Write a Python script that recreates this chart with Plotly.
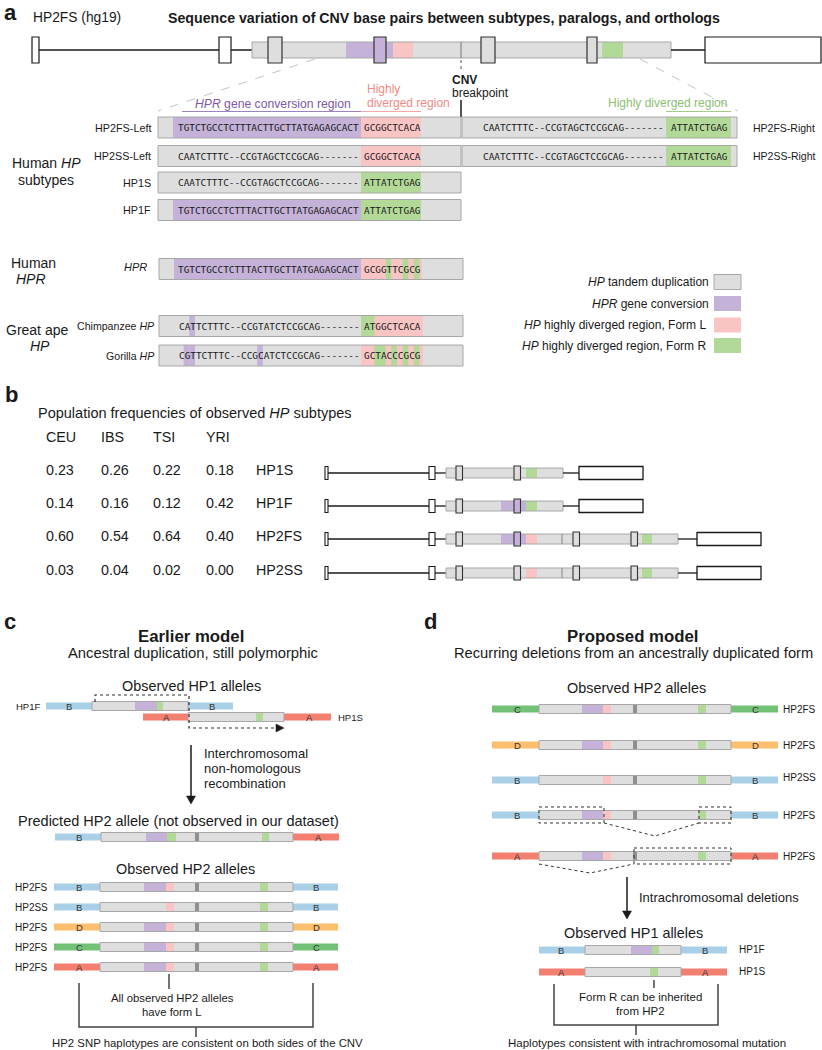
import plotly.graph_objects as go

# ---------------- data ----------------
populations = ["CEU", "IBS", "TSI", "YRI"]
subtypes = ["HP1S", "HP1F", "HP2FS", "HP2SS"]
freq_CEU = [0.23, 0.14, 0.60, 0.03]
freq_IBS = [0.26, 0.16, 0.54, 0.04]
freq_TSI = [0.22, 0.12, 0.64, 0.02]
freq_YRI = [0.18, 0.42, 0.40, 0.00]

seq_HPR_conv = "TGTCTGCCTCTTTACTTGCTTATGAGAGCACT"
seq_HP_base = "CAATCTTTC--CCGTAGCTCCGCAG-------"
seq_formL = "GCGGCTCACA"
seq_formR = "ATTATCTGAG"
seq_HPR_div = "GCGGTTCGCG"
seq_chimp = "CATTCTTTC--CCGTATCTCCGCAG-------"
seq_chimp_div = "ATGGCTCACA"
seq_gorilla = "CGTTCTTTC--CCGCATCTCCGCAG-------"
seq_gorilla_div = "GCTACCCGCG"

subtype_rows = ["HP2FS-Left", "HP2SS-Left", "HP1S", "HP1F"]
subtype_conv = [True, False, False, True]
subtype_form = ["L", "L", "R", "R"]
right_rows = ["HP2FS-Right", "HP2SS-Right"]

# character indices highlighted (purple = matches HPR, green = form R)
HPR_green_idx = [4, 7, 9]
chimp_purple_idx = [2]
chimp_green_idx = [0, 1]
gorilla_purple_idx = [1, 2, 14]
gorilla_green_idx = [2, 3, 5, 7, 9]

legend_labels = ["<i>HP</i> tandem duplication", "<i>HPR</i> gene conversion",
                 "<i>HP</i> highly diverged region, Form L",
                 "<i>HP</i> highly diverged region, Form R"]

c_hp2_labels = ["HP2FS", "HP2SS", "HP2FS", "HP2FS", "HP2FS"]
c_hp2_haps = ["B", "B", "D", "C", "A"]
c_hp2_conv = [True, False, True, True, True]
d_hp2_labels = ["HP2FS", "HP2FS", "HP2SS", "HP2FS", "HP2FS"]
d_hp2_haps = ["C", "D", "B", "B", "A"]
d_hp2_conv = [True, True, False, True, True]

# ---------------- style ----------------
FONT = "Liberation Sans"
MONO = "DejaVu Sans Mono"
GRAY = "#dedede"
GRAY_LINE = "#a8a8a8"
PURPLE = "#c4b2d8"
PINK = "#f9c4c4"
GREEN = "#b3d998"
CNV_DARK = "#8f8f8f"
HAP = {"A": "#f27f70", "B": "#a9d0e7", "C": "#72c177", "D": "#fdbe6e"}
TXT = "#1a1a1a"
NONE = "rgba(0,0,0,0)"

shapes = []
ann = []


def rect(x0, x1, y0, y1, fill, lc=None, lw=0, dash=None):
    shapes.append(dict(type="rect", xref="x", yref="y", x0=x0, x1=x1, y0=y0, y1=y1,
                       fillcolor=fill, line=dict(color=lc or NONE, width=lw, dash=dash)))


def line(x0, y0, x1, y1, color=TXT, lw=1.2, dash=None):
    shapes.append(dict(type="line", xref="x", yref="y", x0=x0, y0=y0, x1=x1, y1=y1,
                       line=dict(color=color, width=lw, dash=dash)))


def path(d, fill=NONE, color=TXT, lw=1.0, dash=None):
    shapes.append(dict(type="path", xref="x", yref="y", path=d, fillcolor=fill,
                       line=dict(color=color, width=lw, dash=dash)))


def txt(x, y, s, size=12, color=TXT, xa="center", ya="middle", family=FONT):
    ann.append(dict(x=x, y=y, xref="x", yref="y", text=s, showarrow=False, xanchor=xa,
                    yanchor=ya, borderpad=0, font=dict(size=size, color=color, family=family)))


CW = 0.602 * 9.4  # monospace char width


def seqtext(x, y, s):
    txt(x, y, s, size=9.4, xa="left", family=MONO)


# ================= panel a =================
txt(3, 12, "<b>a</b>", 22, xa="left")
txt(32, 17, "HP2FS (hg19)", 13.8, xa="left")
txt(444, 18, "<b>Sequence variation of CNV base pairs between subtypes, paralogs, and orthologs</b>", 14.2)

yc = 50
rect(32, 39, 37, 63, "white", TXT, 1.2)
line(39, yc, 219, yc, TXT, 1.5)
rect(219, 231, 37, 63, "white", TXT, 1.2)
line(231, yc, 252, yc, TXT, 1.5)
rect(252, 671, 42, 58, GRAY)
rect(346, 393, 42, 58, PURPLE)
rect(393, 413, 42, 58, PINK)
rect(602, 623, 42, 58, GREEN)
rect(252, 671, 42, 58, NONE, GRAY_LINE, 1)
line(461, 42, 461, 58, "#777", 1)
for (x0, x1, f) in [(268, 282, GRAY), (374, 386, PURPLE), (481, 495, GRAY), (587, 597, GRAY)]:
    rect(x0, x1, 37, 63, f, "#333", 1.2)
line(671, yc, 705, yc, TXT, 1.5)
rect(705, 821, 37, 63, "white", TXT, 1.2)

# zoom dashed lines
line(315, 59, 158, 111, "#c4c4c4", 1, "dash")
line(640, 59, 738, 111, "#c4c4c4", 1, "dash")
line(461, 60, 461, 70, "#555", 1, "dot")
txt(451, 80, "<b>CNV</b>", 12, xa="left")
txt(451, 93, "breakpoint", 12, xa="left")
line(461, 100, 461, 117, TXT, 1.5)

txt(352, 104, "<i>HPR</i> gene conversion region", 12.2, "#7d5aa8", xa="right")
line(182, 111.5, 361, 111.5, "#9b84c0", 1)
txt(366, 89, "Highly", 12, "#f08a86", xa="left")
txt(366, 103, "diverged region", 12, "#f08a86", xa="left")
line(361, 111.5, 421, 111.5, "#f5a9a7", 1)
txt(667, 103, "Highly diverged region", 12, "#8cc074")
line(666, 111.5, 731, 111.5, "#9fcd86", 1)

row_y = [127.5, 156, 182.5, 210]
RH = 10.5
for i, lab in enumerate(subtype_rows):
    y = row_y[i]
    rect(158, 461, y - RH, y + RH, GRAY)
    if subtype_conv[i]:
        rect(173, 361, y - RH, y + RH, PURPLE)
    rect(361, 421, y - RH, y + RH, PINK if subtype_form[i] == "L" else GREEN)
    rect(158, 461, y - RH, y + RH, NONE, GRAY_LINE, 1)
    seqtext(177, y, seq_HPR_conv if subtype_conv[i] else seq_HP_base)
    seqtext(363, y, seq_formL if subtype_form[i] == "L" else seq_formR)
    txt(152, y, lab, 10.8, xa="right")
for i, lab in enumerate(right_rows):
    y = row_y[i]
    rect(462, 737, y - RH, y + RH, GRAY)
    rect(666, 731, y - RH, y + RH, GREEN)
    rect(462, 737, y - RH, y + RH, NONE, GRAY_LINE, 1)
    seqtext(482, y, seq_HP_base)
    seqtext(670, y, seq_formR)
    txt(752, y, lab, 10.5, xa="left")

txt(46, 163, "Human <i>HP</i>", 14)
txt(46, 180, "subtypes", 14)

# HPR row
y = 269
rect(159, 463, y - RH, y + RH, GRAY)
rect(174, 361, y - RH, y + RH, PURPLE)
rect(361, 422, y - RH, y + RH, PINK)
for k in HPR_green_idx:
    rect(363 + k * CW, 363 + (k + 1) * CW, y - RH, y + RH, GREEN)
rect(159, 463, y - RH, y + RH, NONE, GRAY_LINE, 1)
seqtext(177, y, seq_HPR_conv)
seqtext(363, y, seq_HPR_div)
txt(148, y - 2, "<i>HPR</i>", 11, xa="right")
txt(33, 263, "Human", 14)
txt(31, 279, "<i>HPR</i>", 14)

# great ape rows
for (y, lab, s, sd, pidx, gidx) in [(326, "Chimpanzee <i>HP</i>", seq_chimp, seq_chimp_div, chimp_purple_idx, chimp_green_idx),
                                      (355.5, "Gorilla <i>HP</i>", seq_gorilla, seq_gorilla_div, gorilla_purple_idx, gorilla_green_idx)]:
    rect(159, 463, y - RH, y + RH, GRAY)
    rect(361, 423, y - RH, y + RH, PINK)
    for k in pidx:
        rect(178 + k * CW, 178 + (k + 1) * CW, y - RH, y + RH, PURPLE)
    for k in gidx:
        x0 = 361 if k == 0 else 363 + k * CW
        rect(x0, 363 + (k + 1) * CW, y - RH, y + RH, GREEN)
    rect(159, 463, y - RH, y + RH, NONE, GRAY_LINE, 1)
    seqtext(178, y, s)
    seqtext(363, y, sd)
    txt(155, y, lab, 10.6, xa="right")
txt(37, 330, "Great ape", 14)
txt(40, 346, "<i>HP</i>", 14)

# legend
leg_y = [282, 303.5, 325, 345.5]
leg_fill = [GRAY, PURPLE, PINK, GREEN]
for i, lab in enumerate(legend_labels):
    y = leg_y[i]
    rect(714, 741, y - 7.5, y + 7.5, leg_fill[i], GRAY_LINE if i == 0 else None, 1 if i == 0 else 0)
    txt(710 if i < 2 else 707, y, lab, 12, xa="right")

# ================= panel b =================
txt(4, 394, "<b>b</b>", 22, xa="left")
txt(37, 413, "Population frequencies of observed <i>HP</i> subtypes", 14.5, xa="left")

b_rows_y = [471, 504, 537, 571]
col_x = [46, 101, 153, 206]
freq_cols = [freq_CEU, freq_IBS, freq_TSI, freq_YRI]
tx, ty, tt = [], [], []
for j, pop in enumerate(populations):
    tx.append(col_x[j]); ty.append(438); tt.append(pop)
    for i in range(len(subtypes)):
        tx.append(col_x[j]); ty.append(b_rows_y[i]); tt.append(f"{freq_cols[j][i]:.2f}")
for i, st in enumerate(subtypes):
    tx.append(256); ty.append(b_rows_y[i]); tt.append(st)

for i, st in enumerate(subtypes):
    y = b_rows_y[i] + 2
    hp2 = st.startswith("HP2")
    end = 678 if hp2 else 563
    rect(325, 328, y - 6.5, y + 6.5, "white", TXT, 1.1)
    line(328, y, 429, y, TXT, 1.3)
    rect(429, 435, y - 6.5, y + 6.5, "white", TXT, 1.1)
    line(435, y, 446, y, TXT, 1.3)
    rect(446, end, y - 5, y + 5, GRAY)
    if st in ("HP1F", "HP2FS"):
        rect(501, 526, y - 5, y + 5, PURPLE)
    rect(526, 537, y - 5, y + 5, PINK if hp2 else GREEN)
    if hp2:
        rect(642, 652, y - 5, y + 5, GREEN)
    rect(446, end, y - 5, y + 5, NONE, GRAY_LINE, 1)
    if hp2:
        line(562, y - 5, 562, y + 5, "#888", 1)
    exons = [456, 514] + ([573, 631] if hp2 else [])
    for ex in exons:
        fill = PURPLE if (ex == 514 and st in ("HP1F", "HP2FS")) else GRAY
        rect(ex, ex + 6.5, y - 7, y + 7, fill, "#333", 1.1)
    bx = 697 if hp2 else 579
    line(end, y, bx, y, TXT, 1.3)
    rect(bx, bx + 64, y - 6.5, y + 6.5, "white", TXT, 1.3)


# ================= helper for allele rows =================
def allele(xl, xg0, xg1, xr, y, hapL, hapR, parts, lettersx, cnv=None):
    rect(xl, xg0, y - 3.5, y + 3.5, HAP[hapL])
    rect(xg1, xr, y - 3.5, y + 3.5, HAP[hapR])
    rect(xg0, xg1, y - 4.5, y + 4.5, GRAY)
    for (a, b, c) in parts:
        rect(a, b, y - 4.5, y + 4.5, c)
    if cnv is not None:
        rect(cnv, cnv + 4, y - 4.5, y + 4.5, CNV_DARK)
    rect(xg0, xg1, y - 4.5, y + 4.5, NONE, GRAY_LINE, 1)
    txt(lettersx[0], y + 0.5, hapL, 9.5, "#333")
    txt(lettersx[1], y + 0.5, hapR, 9.5, "#333")


def arrow_down(x, y0, y1):
    line(x, y0, x, y1 - 7, TXT, 1.5)
    path(f"M {x-4.5} {y1-8} L {x+4.5} {y1-8} L {x} {y1} Z", fill=TXT, color=TXT, lw=0.5)


# ================= panel c =================
txt(3, 621, "<b>c</b>", 22, xa="left")
txt(191, 636, "<b>Earlier model</b>", 16.8)
txt(193, 653, "Ancestral duplication, still polymorphic", 14.8)
txt(191, 686, "Observed HP1 alleles", 14.4)

allele(46, 92, 188, 233, 706, "B", "B", [(135, 157, PURPLE), (157, 163, GREEN)], (69, 212))
txt(41, 706, "HP1F", 9.5, xa="right")
allele(143, 188, 284, 331, 717, "A", "A", [(256, 263, GREEN)], (166, 309))
txt(337, 717, "HP1S", 9.5, xa="left")
path("M 95 702 L 95 695 L 189 695 L 189 728 L 276 728", color="#333", lw=1.2, dash="dot")
path("M 276 724 L 284 728 L 276 732 Z", fill=TXT, color=TXT, lw=0.5)

arrow_down(191, 745, 804)
txt(203, 753, "Interchromosomal", 13, xa="left")
txt(203, 768, "non-homologous", 13, xa="left")
txt(203, 783, "recombination", 13, xa="left")

txt(178, 821, "Predicted HP2 allele (not observed in our dataset)", 14.5)
allele(55, 101, 293, 339, 837, "B", "A",
       [(146, 167, PURPLE), (167, 176, GREEN), (262, 269, GREEN)], (79, 318), cnv=195)

txt(185, 869, "Observed HP2 alleles", 14.4)
c_rows_y = [887, 907, 927, 947, 967]
for i, lab in enumerate(c_hp2_labels):
    y = c_rows_y[i]
    parts = ([(144, 166, PURPLE)] if c_hp2_conv[i] else []) + [(166, 174, PINK), (260, 268, GREEN)]
    allele(54, 100, 293, 338, y, c_hp2_haps[i], c_hp2_haps[i], parts, (79, 316), cnv=195)
    txt(49, y, lab, 10, xa="right")

line(169, 974, 169, 989, "#444", 1.5)
txt(172, 998, "All observed HP2 alleles", 11.3)
txt(172, 1012, "have form L", 11.3)
path("M 79 983 L 79 1027 L 313 1027 L 313 983", color="#444", lw=1.5)
line(196, 1027, 196, 1037, "#444", 1.5)
txt(207, 1043, "HP2 SNP haplotypes are consistent on both sides of the CNV", 11.4)

# ================= panel d =================
txt(423, 621, "<b>d</b>", 22, xa="left")
txt(632, 636, "<b>Proposed model</b>", 16.8)
txt(633, 653, "Recurring deletions from an ancestrally duplicated form", 14.7)
txt(636, 688, "Observed HP2 alleles", 14.4)

d_rows_y = [709, 745, 780, 815, 856]
for i, lab in enumerate(d_hp2_labels):
    y = d_rows_y[i]
    parts = ([(582, 603, PURPLE)] if d_hp2_conv[i] else []) + [(603, 611, PINK), (698, 706, GREEN)]
    allele(492, 539, 731, 778, y, d_hp2_haps[i], d_hp2_haps[i], parts, (517, 755), cnv=633)
    txt(782, y - (3 if lab == "HP2SS" else 0), lab, 10, xa="left")

# deletion boxes
rect(539, 604, 807, 823, NONE, "#333", 1, "dot")
rect(699, 731, 807, 823, NONE, "#333", 1, "dot")
path("M 604 823 L 655 836 L 699 823", color="#333", lw=1, dash="dot")
rect(634, 731, 848, 864, NONE, "#333", 1, "dot")
path("M 539 864 L 590 873 L 634 864", color="#333", lw=1, dash="dot")

arrow_down(627, 877, 919)
txt(638, 897, "Intrachromosomal deletions", 13, xa="left")
txt(633, 933, "Observed HP1 alleles", 14.4)
allele(539, 585, 681, 727, 950, "B", "B", [(631, 652, PURPLE), (652, 659, GREEN)], (561, 705))
txt(738, 949, "HP1F", 10, xa="left")
allele(539, 585, 681, 727, 972, "A", "A", [(650, 658, GREEN)], (561, 705))
txt(738, 971, "HP1S", 10, xa="left")

line(654, 980, 654, 988, "#444", 1.5)
txt(640, 997, "Form R can be inherited", 11.5)
txt(640, 1011, "from HP2", 11.5)
path("M 554 984 L 554 1025 L 718 1025 L 718 984", color="#444", lw=1.5)
line(636, 1025, 636, 1035, "#444", 1.5)
txt(647, 1043, "Haplotypes consistent with intrachromosomal mutation", 11.5)

# ---------------- figure ----------------
fig = go.Figure()
fig.add_trace(go.Scatter(x=tx, y=ty, text=tt, mode="text", textposition="middle right",
                         textfont=dict(family=FONT, size=14.3, color=TXT), hoverinfo="skip",
                         showlegend=False))
fig.update_layout(width=822, height=1050, margin=dict(l=0, r=0, t=0, b=0),
                  paper_bgcolor="white", plot_bgcolor="white", shapes=shapes, annotations=ann,
                  xaxis=dict(range=[0, 822], visible=False, fixedrange=True),
                  yaxis=dict(range=[1050, 0], visible=False, fixedrange=True),
                  showlegend=False)
fig.write_html("out.html", config={"displayModeBar": False},
               post_script="document.body.style.margin='0px';document.body.style.overflow='hidden';")
